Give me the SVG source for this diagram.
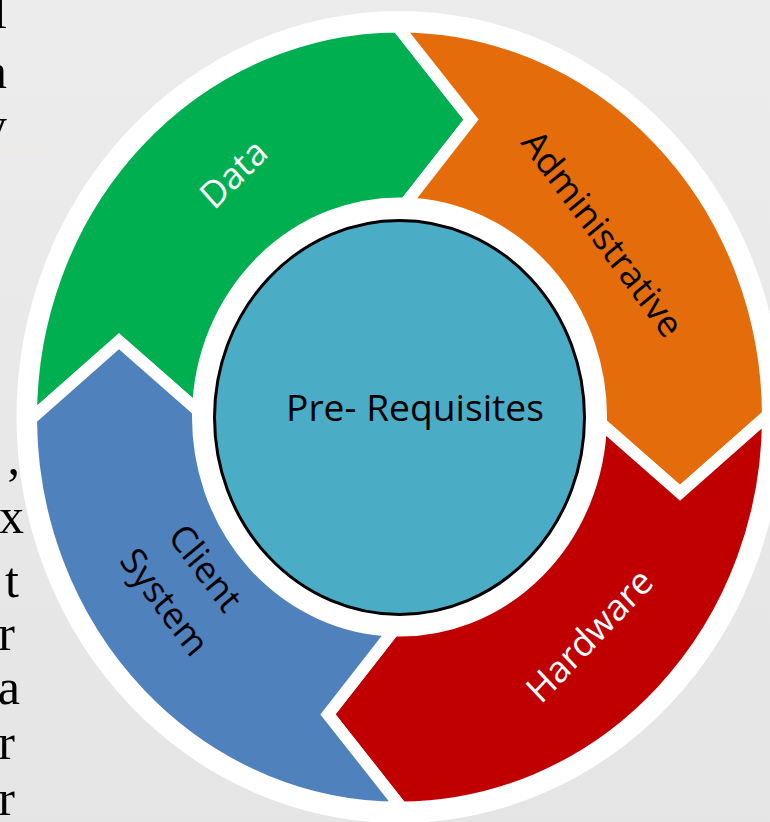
<svg xmlns="http://www.w3.org/2000/svg" width="770" height="822" viewBox="0 0 770 822">
  <defs>
    <linearGradient id="bg" x1="0" y1="0" x2="0" y2="1">
      <stop offset="0" stop-color="#ececec"/>
      <stop offset="1" stop-color="#e5e5e5"/>
    </linearGradient>
  </defs>
  <style>
    .seg { stroke: #ffffff; stroke-width: 12; stroke-linejoin: miter; stroke-miterlimit: 10; vector-effect: non-scaling-stroke; }
    .lbl { font-family: "Open Sans", "Noto Sans", sans-serif; font-size: 35px; }
    .light { fill: #ffffff; }
    .dark { fill: #000000; }
    .page { font-family: "Liberation Serif", "Times New Roman", serif; font-size: 50px; fill: #000000; text-anchor: end; }
    .rule { stroke: #efe9d6; stroke-width: 1; }
  </style>

  <!-- page background with the clipped ends of the body text -->
  <rect width="770" height="822" fill="url(#bg)"/>
  <line class="rule" x1="0" y1="150" x2="60" y2="150"/>
  <line class="rule" x1="0" y1="517" x2="27" y2="517"/>
  <g id="page-text">
    <text class="page" x="7" y="28">l</text>
    <text class="page" x="7" y="88">a</text>
    <text class="page" x="7" y="142">y</text>
    <text class="page" x="20" y="474">,</text>
    <text class="page" x="24" y="533">x</text>
    <text class="page" x="19" y="597">t</text>
    <text class="page" x="15" y="650">r</text>
    <text class="page" x="20" y="704">a</text>
    <text class="page" x="15" y="759">r</text>
    <text class="page" x="15" y="815">r</text>
  </g>

  <!-- white backing disc of the cycle -->
  <ellipse id="ring-backing" cx="399.5" cy="417" rx="383" ry="406" fill="#ffffff"/>

  <!-- cycle segments: annular chevrons, notch at the start, point at the end -->
  <g id="node-data">
    <path class="seg" fill="#00b050" transform="translate(399.5 417) scale(1 1.06)"
          d="M -368.49,1.93 A 368.5 368.5 0 0 1 -1.93,-368.49 L 71.51,-280.53 L 5.98,-201.41 A 201.5 201.5 0 0 0 -201.41,-5.98 L -280.53,-71.51 Z"/>
    <text class="lbl light" transform="translate(214 211) scale(1 1.06) rotate(-43.3)">Data</text>
  </g>

  <g id="node-administrative">
    <path class="seg" fill="#e46c0a" transform="translate(399.5 417) scale(1 1.06)"
          d="M -1.93,-368.49 A 368.5 368.5 0 0 1 368.49,-1.93 L 280.53,71.51 L 201.41,5.98 A 201.5 201.5 0 0 0 5.98,-201.41 L 71.51,-280.53 Z"/>
    <text class="lbl dark" transform="translate(520 143) scale(1 1.06) rotate(52)">Administrative</text>
  </g>

  <g id="node-hardware">
    <path class="seg" fill="#c00000" transform="translate(399.5 417) scale(1 1.06)"
          d="M 368.49,-1.93 A 368.5 368.5 0 0 1 1.93,368.49 L -71.51,280.53 L -5.98,201.41 A 201.5 201.5 0 0 0 201.41,5.98 L 280.53,71.51 Z"/>
    <text class="lbl light" transform="translate(541 705) scale(1 1.06) rotate(-45)">Hardware</text>
  </g>

  <g id="node-client-system">
    <path class="seg" fill="#4f81bd" transform="translate(399.5 417) scale(1 1.06)"
          d="M 1.93,368.49 A 368.5 368.5 0 0 1 -368.49,1.93 L -280.53,-71.51 L -201.41,-5.98 A 201.5 201.5 0 0 0 -5.98,201.41 L -71.51,280.53 Z"/>
    <g transform="translate(195.8 575.8) scale(1 1.06) rotate(51.7)">
      <text class="lbl dark" x="0" y="0" text-anchor="middle">Client</text>
      <text class="lbl dark" x="0" y="52" text-anchor="middle">System</text>
    </g>
  </g>

  <!-- hub -->
  <g id="node-prerequisites">
    <ellipse cx="399.5" cy="417.5" rx="185" ry="197" fill="#4bacc6" stroke="#000000" stroke-width="3"/>
    <text class="lbl dark" style="font-size:34.5px" transform="translate(286 420.5) scale(1 1.06)" textLength="258" lengthAdjust="spacingAndGlyphs">Pre- Requisites</text>
  </g>

  <g id="connectors"/>
</svg>
